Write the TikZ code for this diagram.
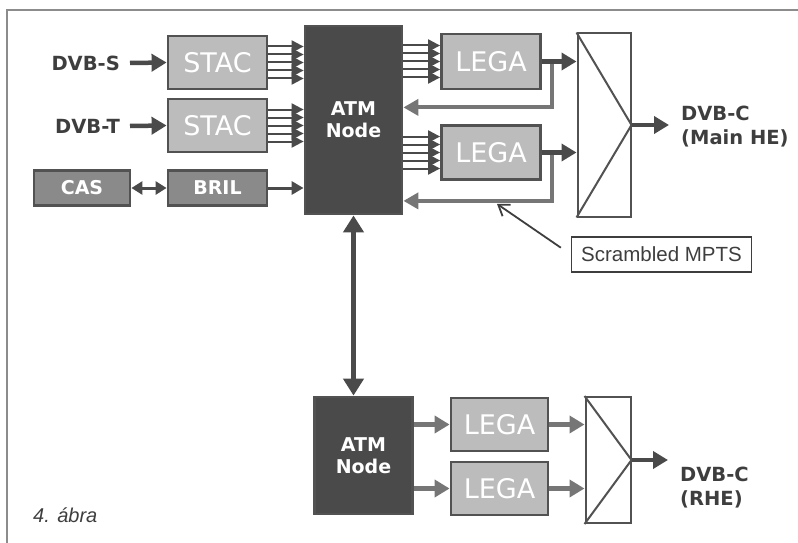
\documentclass[tikz,border=0pt]{standalone}
\usepackage{fontspec}
\setmainfont{DejaVu Sans}
\newfontfamily\arialfont{Liberation Sans}
\usetikzlibrary{arrows.meta}
\definecolor{atmgray}{RGB}{74,74,74}
\definecolor{stagegray}{RGB}{188,188,188}
\definecolor{ctrlgray}{RGB}{138,138,138}
\definecolor{edgegray}{RGB}{82,82,82}
\definecolor{loopgray}{RGB}{118,118,118}
\definecolor{inkgray}{RGB}{62,62,62}
\definecolor{framegray}{RGB}{140,140,140}
\tikzset{
  unit/.style={
    draw=edgegray,
    line width=2.8pt,
    inner sep=0pt,
    text=white
  },
  stage/.style={
    unit,
    fill=stagegray,
    minimum width=99pt,
    minimum height=53pt,
    font=\fontsize{27}{27}\selectfont
  },
  ctrl/.style={
    unit,
    fill=ctrlgray,
    minimum height=35pt,
    font=\bfseries\fontsize{19}{19}\selectfont
  },
  atm/.style={
    unit,
    fill=atmgray,
    align=center,
    font=\bfseries\fontsize{19}{22}\selectfont
  },
  mux/.style={
    draw=edgegray,
    line width=2pt,
    fill=white,
    inner sep=0pt
  },
  tag/.style={
    inner sep=0pt,
    text=inkgray,
    align=left,
    font=\bfseries\fontsize{19.5}{24}\selectfont
  },
  feed/.style={
    draw=atmgray,
    line width=4.5pt,
    -{Triangle[length=15pt,width=17pt]}
  },
  bus/.style={
    draw=atmgray,
    line width=2pt,
    -{Triangle[length=12pt,width=12pt]}
  },
  back/.style={
    draw=loopgray,
    line width=4pt,
    -{Triangle[length=15pt,width=16pt]}
  },
  link/.style={
    draw=atmgray,
    line width=3pt
  }
}

\begin{document}
\begin{tikzpicture}[x=1pt,y=-1pt]
  \useasboundingbox (0,0) rectangle (798,543);
  \draw[framegray, line width=1.5pt] (798,10) -- (7,10) -- (7,543);

  % head end
  \node[stage] (stacS) at (217.5,62.5) {STAC};
  \node[stage] (stacT) at (217.5,125.5) {STAC};
  \node[ctrl, minimum width=96pt] (cas) at (82,188) {CAS};
  \node[ctrl, minimum width=99pt] (bril) at (217.5,188) {BRIL};
  \node[atm, minimum width=97pt, minimum height=188pt] (atmA) at (353.5,120) {ATM\\Node};
  \node[stage, minimum height=55pt] (legaA) at (491,61.5) {LEGA};
  \node[stage, minimum height=54pt] (legaB) at (491,152.5) {LEGA};
  \node[mux, minimum width=53pt, minimum height=183pt] (muxA) at (604,125) {};
  \draw[edgegray, line width=2pt] (muxA.north west) -- (muxA.east) -- (muxA.south west);

  \node[tag, anchor=east] (dvbS) at (120,63) {DVB-S};
  \node[tag, anchor=east] (dvbT) at (120,126) {DVB-T};
  \node[tag, anchor=north west] (dvbcA) at (681,106) {DVB-C\\(Main HE)};
  \node[draw=inkgray, line width=1.5pt, minimum width=180pt, minimum height=35pt,
    inner sep=0pt, text=inkgray, font=\arialfont\fontsize{20.5}{20.5}\selectfont]
    (scr) at (661.5,254.5) {Scrambled MPTS};

  \draw[feed] (dvbS.east) ++(10,0) -- (stacS.west);
  \draw[feed] (dvbT.east) ++(10,0) -- (stacT.west);
  \foreach \d in {-16,-8,0,8,16} {
    \draw[bus] ([yshift=\d pt]stacS.east) -- ([yshift=\d pt]stacS.east -| atmA.west);
    \draw[bus] ([yshift=\d pt]stacT.east) -- ([yshift=\d pt]stacT.east -| atmA.west);
    \draw[bus] ([yshift=\d pt]legaA.west -| atmA.east) -- ([yshift=\d pt]legaA.west);
    \draw[bus] ([yshift=\d pt]legaB.west -| atmA.east) -- ([yshift=\d pt]legaB.west);
  }
  \draw[link, {Triangle[length=11pt,width=13pt]}-{Triangle[length=11pt,width=13pt]}]
    (cas.east) -- (bril.west);
  \draw[link, -{Triangle[length=12pt,width=13pt]}] (bril.east) -- (bril.east -| atmA.west);

  \draw[back] ([xshift=10pt]legaA.east) |- ([yshift=-17pt]legaA.south -| atmA.east);
  \draw[back] ([xshift=10pt]legaB.east) |- ([yshift=-20pt]legaB.south -| atmA.east);
  \draw[feed] (legaA.east) -- (legaA.east -| muxA.west);
  \draw[feed] (legaB.east) -- (legaB.east -| muxA.west);
  \draw[feed, shorten >=12pt] (muxA.east) -- (muxA.east -| dvbcA.west);

  \coordinate (scrTip) at ([xshift=6pt, yshift=-23pt]legaB.south);
  \draw[inkgray, line width=1.8pt, shorten <=12pt, -{Straight Barb[length=10pt,width=14pt]}]
    (scr.west) -- (scrTip);

  % regional head end
  \node[atm, minimum width=98pt, minimum height=117pt] (atmB) at (363.5,455.5) {ATM\\Node};
  \node[stage, minimum width=97pt] (legaC) at (499.5,424.5) {LEGA};
  \node[stage, minimum width=97pt] (legaD) at (499.5,488.5) {LEGA};
  \node[mux, minimum width=45pt, minimum height=126pt] (muxB) at (608,460) {};
  \draw[edgegray, line width=2pt] (muxB.north west) -- (muxB.east) -- (muxB.south west);
  \node[tag, anchor=north west] (dvbcB) at (680,467) {DVB-C\\(RHE)};

  \draw[feed, {Triangle[length=17pt,width=20pt]}-{Triangle[length=17pt,width=20pt]}]
    (atmA.south) -- (atmA.south |- atmB.north);
  \draw[feed, draw=loopgray] (atmB.east |- legaC.west) -- (legaC.west);
  \draw[feed, draw=loopgray] (atmB.east |- legaD.west) -- (legaD.west);
  \draw[feed, draw=loopgray] (legaC.east) -- (legaC.east -| muxB.west);
  \draw[feed, draw=loopgray] (legaD.east) -- (legaD.east -| muxB.west);
  \draw[feed, shorten >=12pt] (muxB.east) -- (muxB.east -| dvbcB.west);

  \node[anchor=base west, inner sep=0pt, text=inkgray,
    font=\arialfont\itshape\fontsize{20}{20}\selectfont] (caption) at (33,522) {4. ábra};
\end{tikzpicture}
\end{document}
